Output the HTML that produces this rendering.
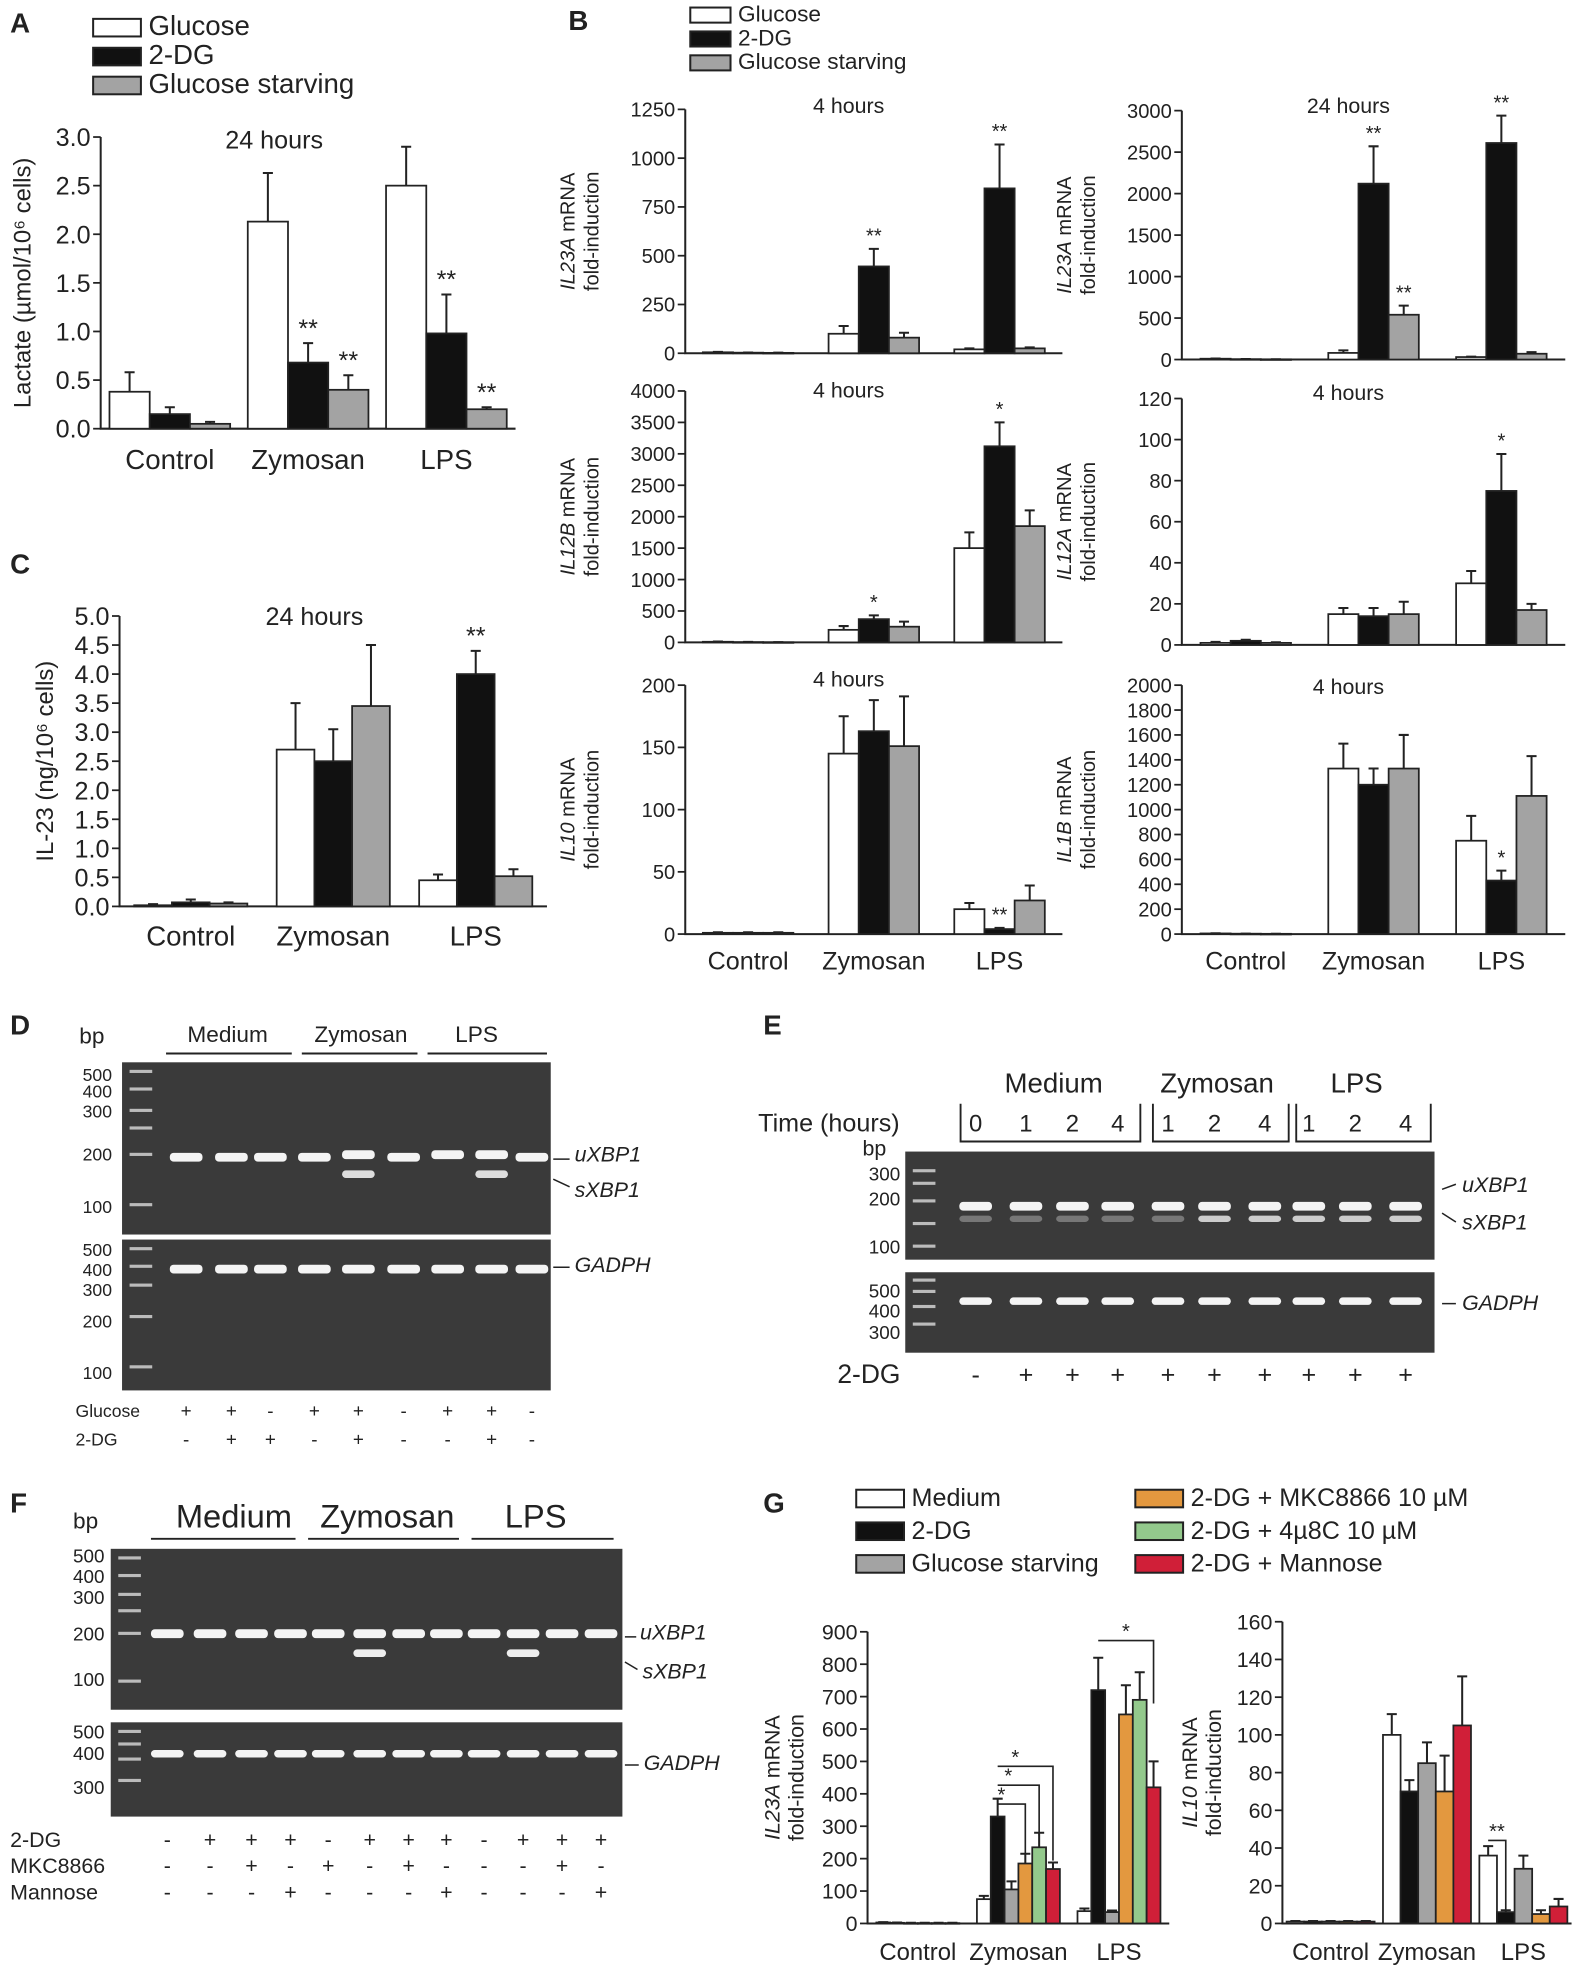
<!DOCTYPE html>
<html><head><meta charset="utf-8"><style>
html,body{margin:0;padding:0;background:#fff}
svg{display:block}
text{font-family:"Liberation Sans",sans-serif;fill:#222}
</style></head><body>
<svg id="fig" xmlns="http://www.w3.org/2000/svg" width="1588" height="1975" viewBox="0 0 1263 1571"></svg>
<script>
// ---------- DATA ----------
const cats3 = ["Control","Zymosan","LPS"];
// Panel A lactate
const aTicks = [0,0.5,1.0,1.5,2.0,2.5,3.0];
const aGlu = [0.38,2.13,2.5], aGluErr = [0.2,0.5,0.4];
const aDG = [0.15,0.68,0.98], aDGErr = [0.07,0.2,0.4];
const aSt = [0.05,0.4,0.2], aStErr = [0.02,0.15,0.02];
// Panel C IL-23
const cTicks = [0,0.5,1.0,1.5,2.0,2.5,3.0,3.5,4.0,4.5,5.0];
const cGlu = [0.02,2.7,0.45], cGluErr = [0.02,0.8,0.1];
const cDG = [0.07,2.5,4.0], cDGErr = [0.05,0.55,0.4];
const cSt = [0.05,3.45,0.52], cStErr = [0.02,1.05,0.12];
// Panel B
const b1Ticks = [0,250,500,750,1000,1250];
const b1Glu=[5,100,20], b1GluErr=[2,40,5], b1DG=[3,445,845], b1DGErr=[1,90,225], b1St=[2,80,25], b1StErr=[1,25,5];
const b2Ticks = [0,500,1000,1500,2000,2500,3000];
const b2Glu=[10,80,30], b2GluErr=[3,30,5], b2DG=[5,2120,2610], b2DGErr=[2,450,330], b2St=[3,540,70], b2StErr=[1,110,20];
const b3Ticks = [0,500,1000,1500,2000,2500,3000,3500,4000];
const b3Glu=[10,200,1500], b3GluErr=[5,60,250], b3DG=[5,370,3120], b3DGErr=[3,60,380], b3St=[3,250,1850], b3StErr=[2,80,250];
const b4Ticks = [0,20,40,60,80,100,120];
const b4Glu=[1,15,30], b4GluErr=[0.5,3,6], b4DG=[2,14,75], b4DGErr=[0.5,4,18], b4St=[1,15,17], b4StErr=[0.3,6,3];
const b5Ticks = [0,50,100,150,200];
const b5Glu=[1,145,20], b5GluErr=[0.5,30,5], b5DG=[1,163,4], b5DGErr=[0.5,25,1], b5St=[1,151,27], b5StErr=[0.5,40,12];
const b6Ticks = [0,200,400,600,800,1000,1200,1400,1600,1800,2000];
const b6Glu=[5,1330,750], b6GluErr=[2,200,200], b6DG=[3,1200,430], b6DGErr=[1,130,80], b6St=[2,1330,1110], b6StErr=[1,270,320];
// Panel G
const g1Ticks=[0,100,200,300,400,500,600,700,800,900];
const g1Med=[3,75,38], g1MedErr=[1,10,8];
const g1DG=[2,330,720], g1DGErr=[1,55,100];
const g1St=[1,105,35], g1StErr=[1,25,5];
const g1MKC=[1,185,645], g1MKCErr=[1,30,90];
const g14u8=[1,235,690], g14u8Err=[1,45,85];
const g1Man=[1,168,420], g1ManErr=[1,20,80];
const g2Ticks=[0,20,40,60,80,100,120,140,160];
const g2Med=[1,100,36], g2MedErr=[0.3,11,5];
const g2DG=[1,70,6], g2DGErr=[0.3,6,1];
const g2St=[1,85,29], g2StErr=[0.3,11,7];
const g2MKC=[1,70,5], g2MKCErr=[0.3,19,2];
const g2Man=[1,105,9], g2ManErr=[0.3,26,4];

const WHITE="#fff",BLACK="#111",GRAY="#a3a3a3",ORANGE="#e3983f",GREEN="#93c98c",RED="#d01f38";
const svg=document.getElementById('fig');
const NS="http://www.w3.org/2000/svg";
function mk(tag,attrs,parent){const e=document.createElementNS(NS,tag);for(const k in attrs)e.setAttribute(k,attrs[k]);(parent||svg).appendChild(e);return e;}
function txt(x,y,s,size,opts,parent){opts=opts||{};const t=mk('text',Object.assign({x:x,y:y,'font-size':size},opts),parent);t.textContent=s;return t;}

function chart(name,o){
  const g=mk('g',{});
  
  
  const max=o.ticks[o.ticks.length-1];
  const Y=v=>o.y0-(v/max)*(o.y0-o.yTop);
  const n=o.cats.length, gw=(o.x1-o.x0)/n;
  const X=i=>o.x0+(i+0.5)*gw;
  const ax=mk('path',{d:`M${o.x0},${o.yTop} V${o.y0} H${o.x1}`,stroke:'#222','stroke-width':1.6,fill:'none'},g);
  
  
  o.ticks.forEach(t=>{
    mk('line',{x1:o.x0-6,x2:o.x0,y1:Y(t),y2:Y(t),stroke:'#222','stroke-width':1.4},g);
    const l=txt(o.x0-8,Y(t)+o.fs*0.36,o.fmt?o.fmt(t):String(t),o.fs,{'text-anchor':'end'},g);
    
    
  });
  if(!o.hideCats){
    o.cats.forEach((c,i)=>{
      const l=txt(X(i)+(o.catDx||0),o.catY,c,o.cfs,{'text-anchor':'middle'},g);
      
      
    });
  }
  const ns=o.series.length;
  o.series.forEach((s,si)=>{
    s.vals.forEach((v,i)=>{
      if(v===null)return;
      const bx=X(i)-ns*o.bw/2+si*o.bw;
      const top=Y(v);
      const r=mk('rect',{x:bx,y:top,width:o.bw,height:Math.max(o.y0-top,0.5),fill:s.color,stroke:'#222','stroke-width':1.4},g);
      
      
      const e=s.errs[i]||0;
      if(e>0){
        const cx=bx+o.bw/2,ey=Y(v+e);
        mk('path',{d:`M${cx},${top} V${ey} M${cx-4},${ey} H${cx+4}`,stroke:'#222','stroke-width':1.6,fill:'none'},g);
      }
      if(s.stars&&s.stars[i]){
        const st=txt(bx+o.bw/2,Y(v+e)-5,s.stars[i],o.fs,{'text-anchor':'middle'},g);
        
        
      }
    });
  });
  if(o.yTitle){
    const t=mk('text',{transform:`translate(${o.ytx},${(o.y0+o.yTop)/2}) rotate(-90)`,'text-anchor':'middle','font-size':o.ytfs},g);
    
    
    o.yTitle(t);
  }
  if(o.title){const t=txt((o.x0+o.x1)/2+(o.titleDx||0),o.titleY,o.title,o.tfs||18,{'text-anchor':'middle'},g);
    
    }
  return {g,X,Y};
}
function geneTitle(gene){return t=>{const a=mk('tspan',{'font-style':'italic'},t);a.textContent=gene;const b=mk('tspan',{},t);b.textContent=' mRNA';const c=mk('tspan',{x:0,dy:19},t);c.textContent='fold-induction';};}
function panelLabel(s,x,y){const t=txt(x,y,s,22,{'font-weight':'bold'});}
function legend(items,x,y,dy,bw,bh,fs,name){
  items.forEach((it,i)=>{
    const g=mk('g',{});
    
    
    mk('rect',{x:x,y:y+i*dy,width:bw,height:bh,fill:it[1],stroke:'#222','stroke-width':1.6},g);
    txt(x+bw+6,y+i*dy+bh-1,it[0],fs,{},g);
  });
}
const f1=v=>v.toFixed(1);

// ---------- A ----------
panelLabel('A',8,26);
legend([["Glucose",WHITE],["2-DG",BLACK],["Glucose starving",GRAY]],74,15,23,38,14,22,'legend-entry');
chart('chart-a-lactate',{cats:cats3,ticks:aTicks,x0:80,x1:410,y0:341,yTop:109,fs:20,cfs:22,catY:373,bw:32,fmt:f1,
 series:[{vals:aGlu,errs:aGluErr,color:WHITE},{vals:aDG,errs:aDGErr,color:BLACK,stars:[0,'**','**']},{vals:aSt,errs:aStErr,color:GRAY,stars:[0,'**','**']}],
 title:'24 hours',titleY:118,tfs:20,titleDx:-27,ytx:24,ytfs:19,yTitle:t=>{t.textContent='Lactate (\u00b5mol/10\u2076 cells)';}});
// ---------- C ----------
panelLabel('C',8,456);
chart('chart-c-il23',{cats:cats3,ticks:cTicks,x0:95,x1:435,y0:721,yTop:490,fs:20,cfs:22,catY:752,bw:30,fmt:f1,
 series:[{vals:cGlu,errs:cGluErr,color:WHITE},{vals:cDG,errs:cDGErr,color:BLACK,stars:[0,0,'**']},{vals:cSt,errs:cStErr,color:GRAY}],
 title:'24 hours',titleY:497,tfs:20,titleDx:-15,ytx:42,ytfs:19,yTitle:t=>{t.textContent='IL-23  (ng/10\u2076 cells)';}});
// ---------- B ----------
panelLabel('B',452,24);
legend([["Glucose",WHITE],["2-DG",BLACK],["Glucose starving",GRAY]],549,6,19,32,12,18,'legend-entry');
const bcfg=(ticks,x0,x1,y0,yTop,g,d,s,st,stars,gene,title,ty,showCats)=>({cats:cats3,hideCats:!showCats,ticks,x0,x1,y0,yTop,fs:16,cfs:20,catY:771,bw:24,
 series:[{vals:g[0],errs:g[1],color:WHITE},{vals:d[0],errs:d[1],color:BLACK,stars:stars[0]},{vals:s[0],errs:s[1],color:GRAY,stars:stars[1]}],
 title,titleY:ty,tfs:17,titleDx:-20,ytx:x0-88,ytfs:16,yTitle:geneTitle(gene)});
chart('chart-b-il23a-4h',bcfg(b1Ticks,545,845,281,87,[b1Glu,b1GluErr],[b1DG,b1DGErr],[b1St,b1StErr],0,[[0,'**','**'],null],'IL23A','4 hours',90,false));
chart('chart-b-il23a-24h',bcfg(b2Ticks,940,1245,286,88,[b2Glu,b2GluErr],[b2DG,b2DGErr],[b2St,b2StErr],0,[[0,'**','**'],[0,'**',0]],'IL23A','24 hours',90,false));
chart('chart-b-il12b-4h',bcfg(b3Ticks,545,845,511,311,[b3Glu,b3GluErr],[b3DG,b3DGErr],[b3St,b3StErr],0,[[0,'*','*'],null],'IL12B','4 hours',316,false));
chart('chart-b-il12a-4h',bcfg(b4Ticks,940,1245,513,317,[b4Glu,b4GluErr],[b4DG,b4DGErr],[b4St,b4StErr],0,[[0,0,'*'],null],'IL12A','4 hours',318,false));
chart('chart-b-il10-4h',bcfg(b5Ticks,545,845,743,545,[b5Glu,b5GluErr],[b5DG,b5DGErr],[b5St,b5StErr],0,[[0,0,'**'],null],'IL10','4 hours',546,true));
chart('chart-b-il1b-4h',bcfg(b6Ticks,940,1245,743,545,[b6Glu,b6GluErr],[b6DG,b6DGErr],[b6St,b6StErr],0,[[0,0,'*'],null],'IL1B','4 hours',552,true));

// ---------- Gels ----------
function gel(name,x,y,w,h,lanes,bands,ladderYs){
  const g=mk('g',{});
  
  
  mk('rect',{x,y,width:w,height:h,fill:'#3a3a3a'},g);
  ladderYs.forEach(ly=>mk('rect',{x:x+6,y:y+ly,width:18,height:2.5,fill:'#bbb'},g));
  lanes.forEach((lx,i)=>{
    bands[i].forEach(b=>{mk('rect',{x:x+lx-13,y:y+b[0],width:26,height:b[1]||7,rx:3,fill:b[2]||'#f4f4f4'},g);});
  });
}
// D
panelLabel('D',8,823);
txt(63,830,'bp',18);
[['Medium',181,1],['Zymosan',287,1],['LPS',379,1]].forEach(a=>txt(a[1],829,a[0],18,{'text-anchor':'middle'}));
mk('path',{d:'M132,838H232 M240,838H332 M340,838H435',stroke:'#222','stroke-width':1.5});
const dl=[148,184,215,250,285,321,356,391,423];
gel('gel-d-xbp1',97,845,341,137,dl.map(v=>v-97),[[[72]],[[72]],[[72]],[[72]],[[70],[86,6,'#ddd']],[[72]],[[70]],[[70],[86,6,'#ddd']],[[72]]],[6,20,37,51,72,112]);
gel('gel-d-gadph',97,986,341,120,dl.map(v=>v-97),dl.map(()=>[[20]]),[6,20,35,60,100]);
[['500',855],['400',868],['300',884],['200',918],['100',960],['500',994],['400',1010],['300',1026],['200',1051],['100',1092]].forEach(a=>txt(89,a[1]+5,a[0],14,{'text-anchor':'end'}));
txt(457,924,'uXBP1',17,{'font-style':'italic'});txt(457,952,'sXBP1',17,{'font-style':'italic'});txt(457,1012,'GADPH',17,{'font-style':'italic'});
mk('path',{d:'M440,922H453 M440,938L453,944 M440,1008H453',stroke:'#222','stroke-width':1.2});
txt(60,1127,'Glucose',14);txt(60,1150,'2-DG',14);
const dG=['+','+','-','+','+','-','+','+','-'],dD=['-','+','+','-','+','-','-','+','-'];
dl.forEach((x,i)=>{txt(x,1127,dG[i],15,{'text-anchor':'middle'});txt(x,1150,dD[i],15,{'text-anchor':'middle'});});
// E
panelLabel('E',607,823);
[['Medium',838],['Zymosan',968],['LPS',1079]].forEach(a=>txt(a[1],869,a[0],22,{'text-anchor':'middle'}));
mk('path',{d:'M764,878V908H907V878 M917,878V908H1025V878 M1031,878V908H1138V878',stroke:'#222','stroke-width':1.5,fill:'none'});
txt(603,900,'Time (hours)',20);
const el_=[776,816,853,889,929,966,1006,1041,1078,1118],eT=['0','1','2','4','1','2','4','1','2','4'];
el_.forEach((x,i)=>txt(x,900,eT[i],19,{'text-anchor':'middle'}));
txt(686,919,'bp',17);
gel('gel-e-xbp1',720,916,421,86,el_.map(v=>v-720),el_.map((v,i)=>[[40],[51,5,i>4?'#ccc':'#777']]),[14,24,38,56,74]);
gel('gel-e-gadph',720,1012,421,64,el_.map(v=>v-720),el_.map(()=>[[20,6]]),[5,14,26,40]);
[['300',934],['200',954],['100',992],['500',1027],['400',1043],['300',1060]].forEach(a=>txt(716,a[1]+5,a[0],15,{'text-anchor':'end'}));
txt(1163,948,'uXBP1',17,{'font-style':'italic'});txt(1163,978,'sXBP1',17,{'font-style':'italic'});txt(1163,1042,'GADPH',17,{'font-style':'italic'});
mk('path',{d:'M1147,946L1158,942 M1147,965L1158,972 M1147,1037H1158',stroke:'#222','stroke-width':1.2});
txt(666,1100,'2-DG',21);
const eS=['-','+','+','+','+','+','+','+','+','+'];
el_.forEach((x,i)=>txt(x,1100,eS[i],20,{'text-anchor':'middle'}));
// F
panelLabel('F',8,1203);
txt(58,1216,'bp',18);
[['Medium',186],['Zymosan',308],['LPS',426]].forEach(a=>txt(a[1],1215,a[0],26,{'text-anchor':'middle'}));
mk('path',{d:'M120,1224H235 M245,1224H365 M375,1224H488',stroke:'#222','stroke-width':1.5});
const fl=[133,167,200,231,261,294,325,355,385,416,447,478];
gel('gel-f-xbp1',88,1232,407,128,fl.map(v=>v-88),fl.map((v,i)=>[[64],...( [5,9].includes(i)?[[80,6,'#eee']]:[] )]),[6,20,35,48,66,104]);
gel('gel-f-gadph',88,1370,407,75,fl.map(v=>v-88),fl.map(()=>[[22,6]]),[6,16,28,45]);
[['500',1238],['400',1254],['300',1271],['200',1300],['100',1336],['500',1378],['400',1395],['300',1422]].forEach(a=>txt(83,a[1]+5,a[0],15,{'text-anchor':'end'}));
txt(509,1304,'uXBP1',17,{'font-style':'italic'});txt(511,1335,'sXBP1',17,{'font-style':'italic'});txt(512,1408,'GADPH',17,{'font-style':'italic'});
mk('path',{d:'M497,1302H506 M497,1322L507,1328 M497,1404H508',stroke:'#222','stroke-width':1.2});
txt(8,1469,'2-DG',17);txt(8,1490,'MKC8866',17);txt(8,1511,'Mannose',17);
const fr1=['-','+','+','+','-','+','+','+','-','+','+','+'],fr2=['-','-','+','-','+','-','+','-','-','-','+','-'],fr3=['-','-','-','+','-','-','-','+','-','-','-','+'];
fl.forEach((x,i)=>{txt(x,1469,fr1[i],17,{'text-anchor':'middle'});txt(x,1490,fr2[i],17,{'text-anchor':'middle'});txt(x,1511,fr3[i],17,{'text-anchor':'middle'});});
// ---------- G ----------
panelLabel('G',607,1203);
legend([["Medium",WHITE],["2-DG",BLACK],["Glucose starving",GRAY]],681,1185,26,38,14,20,'legend-entry');
legend([["2-DG + MKC8866 10 \u00b5M",ORANGE],["2-DG + 4\u00b58C 10 \u00b5M",GREEN],["2-DG + Mannose",RED]],903,1185,26,38,14,20,'legend-entry');
const gc1=chart('chart-g-il23a',{cats:cats3,ticks:g1Ticks,x0:690,x1:930,y0:1530,yTop:1298,fs:17,cfs:19,catY:1559,bw:11,
 series:[{vals:g1Med,errs:g1MedErr,color:WHITE},{vals:g1DG,errs:g1DGErr,color:BLACK},{vals:g1St,errs:g1StErr,color:GRAY},{vals:g1MKC,errs:g1MKCErr,color:ORANGE},{vals:g14u8,errs:g14u8Err,color:GREEN},{vals:g1Man,errs:g1ManErr,color:RED}],
 ytx:620,ytfs:17,yTitle:geneTitle('IL23A')});
const gc2=chart('chart-g-il10',{cats:cats3,ticks:g2Ticks,x0:1020,x1:1250,y0:1530,yTop:1290,fs:17,cfs:19,catY:1559,bw:14,
 series:[{vals:g2Med,errs:g2MedErr,color:WHITE},{vals:g2DG,errs:g2DGErr,color:BLACK},{vals:g2St,errs:g2StErr,color:GRAY},{vals:g2MKC,errs:g2MKCErr,color:ORANGE},{vals:g2Man,errs:g2ManErr,color:RED}],
 ytx:952,ytfs:17,yTitle:geneTitle('IL10')});
// significance brackets G
const bx1=(i,si)=>gc1.X(i)-3*11+si*11+5.5;
[[3,1435,1475],[4,1420,1460],[5,1405,1480]].forEach(a=>{const x1=bx1(1,1),x2=bx1(1,a[0]);
 mk('path',{d:`M${x1},${a[1]}H${x2}V${a[2]}`,stroke:'#222','stroke-width':1.3,fill:'none'});
 txt((x1+x2)/2-8,a[1]-2,'*',16,{'text-anchor':'middle'});});
{const x1=bx1(2,1),x2=bx1(2,5);mk('path',{d:`M${x1},1305H${x2}V1355`,stroke:'#222','stroke-width':1.3,fill:'none'});txt((x1+x2)/2,1303,'*',16,{'text-anchor':'middle'});}
{const x1=gc2.X(2)-2.5*14+7,x2=x1+14;mk('path',{d:`M${x1},1464H${x2}V1520`,stroke:'#222','stroke-width':1.3,fill:'none'});txt((x1+x2)/2,1462,'**',16,{'text-anchor':'middle'});}
</script>
</body></html>
